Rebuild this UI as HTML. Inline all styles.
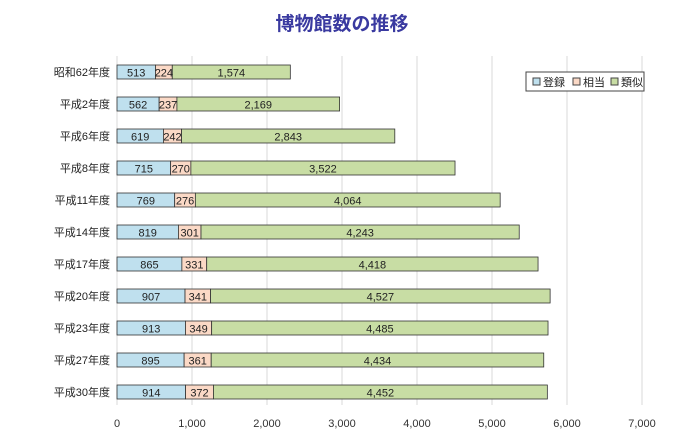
<!DOCTYPE html>
<html><head><meta charset="utf-8"><style>
body{margin:0;background:#fff;width:700px;height:438px;overflow:hidden}
text{font-family:"Liberation Sans","Noto Sans CJK JP",sans-serif}
</style></head><body>
<svg id="c" width="700" height="438">
<text x="342" y="30" text-anchor="middle" font-size="19" font-weight="bold" fill="#3a3aa0">博物館数の推移</text>
<g id="grid"></g><g id="bars"></g><g id="labels"></g><g id="ticks"></g>
<g>
<rect x="526" y="72" width="118" height="19" fill="#fff" stroke="#444" stroke-width="1"/>
<rect x="533" y="78" width="7" height="7" fill="#bfe0ee" stroke="#444"/>
<text x="543" y="86" font-size="11" fill="#222">登録</text>
<rect x="573" y="78" width="7" height="7" fill="#fbd9c6" stroke="#444"/>
<text x="583" y="86" font-size="11" fill="#222">相当</text>
<rect x="611" y="78" width="7" height="7" fill="#c8dda4" stroke="#444"/>
<text x="621" y="86" font-size="11" fill="#222">類似</text>
</g>
</svg>
<script>
const categories=["昭和62年度","平成2年度","平成6年度","平成8年度","平成11年度","平成14年度","平成17年度","平成20年度","平成23年度","平成27年度","平成30年度"];
const toroku=[513,562,619,715,769,819,865,907,913,895,914];
const soto=[224,237,242,270,276,301,331,341,349,361,372];
const ruiji=[1574,2169,2843,3522,4064,4243,4418,4527,4485,4434,4452];
const ticks=[0,1000,2000,3000,4000,5000,6000,7000];
const NS="http://www.w3.org/2000/svg";
const x0=117,xs=75/1000,y0=72,dy=32,bh=14;
const X=v=>x0+v*xs, Y=i=>y0+i*dy;
function mk(t,a,p){const e=document.createElementNS(NS,t);for(const k in a)e.setAttribute(k,a[k]);p.appendChild(e);return e;}
const g=document.getElementById('grid'),b=document.getElementById('bars'),l=document.getElementById('labels'),tk=document.getElementById('ticks');
ticks.forEach(t=>{
 const ln=mk('line',{x1:X(t),x2:X(t),y1:56,y2:405,stroke:'#d9d9d9','stroke-width':1},g);
 
 
 const tx=mk('text',{x:X(t),y:427,'text-anchor':'middle','font-size':11,fill:'#333'},tk);
 tx.textContent=t.toLocaleString('en-US');
 
 
});
const series=[[toroku,'#bfe0ee','toroku'],[soto,'#fbd9c6','soto'],[ruiji,'#c8dda4','ruiji']];
categories.forEach((c,i)=>{
 const y=Y(i);
 const ct=mk('text',{x:110,y:y+4,'text-anchor':'end','font-size':11,fill:'#222'},l);
 ct.textContent=c;
 
 
 let acc=0;
 series.forEach(([arr,col,nm])=>{
  const v=arr[i];
  const r=mk('rect',{x:X(acc),y:y-bh/2,width:v*xs,height:bh,fill:col,stroke:'#333','stroke-width':0.8},b);
  
  
  const t=mk('text',{x:X(acc+v/2),y:y+4.5,'text-anchor':'middle','font-size':11,fill:'#222'},l);
  t.textContent=v.toLocaleString('en-US');
  
  
  acc+=v;
 });
});
</script>
</body></html>
